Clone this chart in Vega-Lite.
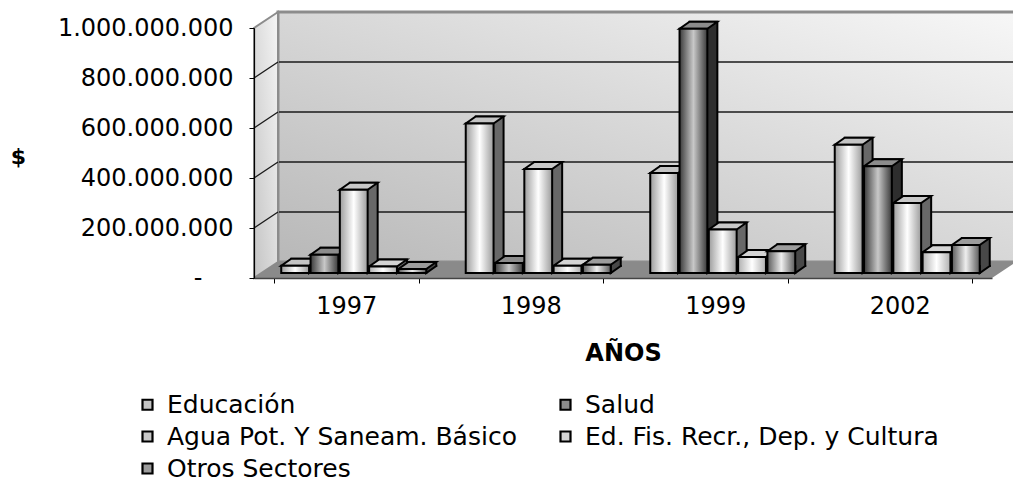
{
  "$schema": "https://vega.github.io/schema/vega-lite/v6.json",
  "width": 738,
  "height": 250,
  "autosize": "none",
  "padding": {"left": 254, "top": 28, "right": 21, "bottom": 206},
  "background": "#ffffff",
  "config": {"view": {"stroke": null}, "font": "DejaVu Sans"},
  "datasets": {
    "gastos": [
      {"anio": "1997", "sector": "Educación", "monto": 29000000},
      {"anio": "1997", "sector": "Salud", "monto": 73000000},
      {"anio": "1997", "sector": "Agua Pot. Y Saneam. Básico", "monto": 333000000},
      {"anio": "1997", "sector": "Ed. Fis. Recr., Dep. y Cultura", "monto": 26000000},
      {"anio": "1997", "sector": "Otros Sectores", "monto": 16000000},
      {"anio": "1998", "sector": "Educación", "monto": 598000000},
      {"anio": "1998", "sector": "Salud", "monto": 40000000},
      {"anio": "1998", "sector": "Agua Pot. Y Saneam. Básico", "monto": 416000000},
      {"anio": "1998", "sector": "Ed. Fis. Recr., Dep. y Cultura", "monto": 29000000},
      {"anio": "1998", "sector": "Otros Sectores", "monto": 33000000},
      {"anio": "1999", "sector": "Educación", "monto": 400000000},
      {"anio": "1999", "sector": "Salud", "monto": 977000000},
      {"anio": "1999", "sector": "Agua Pot. Y Saneam. Básico", "monto": 174000000},
      {"anio": "1999", "sector": "Ed. Fis. Recr., Dep. y Cultura", "monto": 64000000},
      {"anio": "1999", "sector": "Otros Sectores", "monto": 87000000},
      {"anio": "2002", "sector": "Educación", "monto": 513000000},
      {"anio": "2002", "sector": "Salud", "monto": 427000000},
      {"anio": "2002", "sector": "Agua Pot. Y Saneam. Básico", "monto": 280000000},
      {"anio": "2002", "sector": "Ed. Fis. Recr., Dep. y Cultura", "monto": 83000000},
      {"anio": "2002", "sector": "Otros Sectores", "monto": 112000000}
    ],
    "marco": [{"desde": 0, "hasta": 1, "piso": 0, "techo": 1000000000}],
    "rejilla": [
      {"nivel": 200000000},
      {"nivel": 400000000},
      {"nivel": 600000000},
      {"nivel": 800000000}
    ]
  },
  "resolve": {"scale": {"x": "independent", "xOffset": "independent"}, "axis": {"y": "independent"}},
  "layer": [
    {
      "data": {"name": "marco"},
      "mark": {
        "type": "rect",
        "xOffset": 24, "x2Offset": 24, "yOffset": -16, "y2Offset": -16,
        "fill": {"gradient": "linear", "x1": 0, "y1": 1, "x2": 1, "y2": 0,
          "stops": [{"offset": 0, "color": "#b8b8b8"}, {"offset": 0.55, "color": "#dadada"}, {"offset": 1, "color": "#f7f7f7"}]},
        "stroke": "#8c8c8c", "strokeWidth": 3
      },
      "encoding": {
        "x": {"field": "desde", "type": "quantitative", "scale": {"domain": [0, 1], "nice": false, "zero": false}, "axis": null},
        "x2": {"field": "hasta"},
        "y": {"field": "piso", "type": "quantitative", "axis": null},
        "y2": {"field": "techo"}
      }
    },
    {
      "data": {"name": "rejilla"},
      "mark": {"type": "rule", "xOffset": 24, "x2Offset": 24, "yOffset": -16, "color": "#1a1a1a", "strokeWidth": 1.3},
      "encoding": {
        "x": {"datum": 0, "type": "quantitative", "scale": {"domain": [0, 1], "nice": false, "zero": false}, "axis": null},
        "x2": {"datum": 1},
        "y": {"field": "nivel", "type": "quantitative", "axis": null}
      }
    },
    {
      "data": {"name": "marco"},
      "mark": {
        "type": "point", "shape": "M0,0L0,-250L24,-266L24,-16Z", "size": 4, "filled": true, "opacity": 1,
        "fill": {"gradient": "linear", "x1": 0, "y1": 1, "x2": 1, "y2": 0,
          "stops": [{"offset": 0, "color": "#c4c4c4"}, {"offset": 1, "color": "#f5f5f5"}]},
        "stroke": "#8c8c8c", "strokeWidth": 2
      },
      "encoding": {
        "x": {"field": "desde", "type": "quantitative", "scale": {"domain": [0, 1], "nice": false, "zero": false}, "axis": null},
        "y": {"field": "piso", "type": "quantitative", "axis": null}
      }
    },
    {
      "data": {"name": "rejilla"},
      "mark": {"type": "point", "shape": "M0,0L24,-16", "size": 4, "filled": false, "opacity": 1, "stroke": "#1a1a1a", "strokeWidth": 1.3},
      "encoding": {
        "x": {"datum": 0, "type": "quantitative", "scale": {"domain": [0, 1], "nice": false, "zero": false}, "axis": null},
        "y": {"field": "nivel", "type": "quantitative", "axis": null}
      }
    },
    {
      "data": {"name": "marco"},
      "mark": {"type": "point", "shape": "M0,0L738,0L762,-16L24,-16Z", "size": 4, "filled": true, "opacity": 1, "fill": "#8a8a8a", "stroke": null},
      "encoding": {
        "x": {"field": "desde", "type": "quantitative", "scale": {"domain": [0, 1], "nice": false, "zero": false}, "axis": null},
        "y": {"field": "piso", "type": "quantitative", "axis": null}
      }
    },
    {
      "data": {"name": "gastos"},
      "mark": {"type": "bar", "yOffset": -12, "y2Offset": -12, "stroke": "#000000", "strokeWidth": 2},
      "encoding": {
        "x": {"field": "anio", "type": "ordinal", "scale": {"type": "band", "paddingInner": 0.214, "paddingOuter": 0.107}, "axis": null},
        "xOffset": {
          "field": "sector", "type": "nominal",
          "sort": ["Educación", "Salud", "Agua Pot. Y Saneam. Básico", "Ed. Fis. Recr., Dep. y Cultura", "Otros Sectores"],
          "scale": {"type": "band", "paddingInner": 0.05, "paddingOuter": 0, "range": [17.5, 162.5]}
        },
        "y": {"field": "monto", "type": "quantitative", "scale": {"domain": [0, 1000000000], "nice": false}, "axis": null},
        "fill": {
          "condition": [
            {"test": "datum.sector === 'Salud'", "value": "#2e2e2e"},
            {"test": "datum.sector === 'Otros Sectores'", "value": "#484848"}
          ],
          "value": "#686868"
        }
      }
    },
    {
      "data": {"name": "gastos"},
      "mark": {"type": "point", "shape": "M23.9,-8L23.9,-7L13.9,0L13.9,-8", "size": 4, "filled": true, "opacity": 1,
        "yOffset": -5, "stroke": "#000000", "strokeWidth": 2},
      "encoding": {
        "x": {"field": "anio", "type": "ordinal", "scale": {"type": "band", "paddingInner": 0.214, "paddingOuter": 0.107}, "axis": null},
        "xOffset": {
          "field": "sector", "type": "nominal",
          "sort": ["Educación", "Salud", "Agua Pot. Y Saneam. Básico", "Ed. Fis. Recr., Dep. y Cultura", "Otros Sectores"],
          "scale": {"type": "band", "paddingInner": 0.05, "paddingOuter": 0, "range": [7.5, 152.5]}
        },
        "y": {"datum": 0, "type": "quantitative", "axis": null},
        "fill": {
          "condition": [
            {"test": "datum.sector === 'Salud'", "value": "#2e2e2e"},
            {"test": "datum.sector === 'Otros Sectores'", "value": "#484848"}
          ],
          "value": "#686868"
        }
      }
    },
    {
      "data": {"name": "gastos"},
      "mark": {"type": "point", "shape": "M-13.9,0L13.9,0L23.9,-7L-3.9,-7Z", "size": 4, "filled": true, "opacity": 1,
        "yOffset": -5, "stroke": "#000000", "strokeWidth": 2},
      "encoding": {
        "x": {"field": "anio", "type": "ordinal", "scale": {"type": "band", "paddingInner": 0.214, "paddingOuter": 0.107}, "axis": null},
        "xOffset": {
          "field": "sector", "type": "nominal",
          "sort": ["Educación", "Salud", "Agua Pot. Y Saneam. Básico", "Ed. Fis. Recr., Dep. y Cultura", "Otros Sectores"],
          "scale": {"type": "band", "paddingInner": 0.05, "paddingOuter": 0, "range": [7.5, 152.5]}
        },
        "y": {"field": "monto", "type": "quantitative", "axis": null},
        "fill": {
          "field": "sector", "type": "nominal",
          "scale": {
            "domain": ["Educación", "Salud", "Agua Pot. Y Saneam. Básico", "Ed. Fis. Recr., Dep. y Cultura", "Otros Sectores"],
            "range": ["#c4c4c4", "#8c8c8c", "#c8c8c8", "#d4d4d4", "#9c9c9c"]
          },
          "legend": {
            "orient": "none", "legendX": -119, "legendY": 364, "direction": "horizontal", "columns": 2,
            "columnPadding": 36, "rowPadding": 6,
            "title": null, "symbolType": "square", "symbolSize": 100, "symbolStrokeColor": "#000000",
            "symbolStrokeWidth": 2.2, "symbolOpacity": 1, "labelFont": "DejaVu Sans", "labelFontSize": 25,
            "labelColor": "#000000", "labelOffset": 7, "labelLimit": 600, "padding": 0
          }
        }
      }
    },
    {
      "data": {"name": "gastos"},
      "mark": {"type": "bar", "yOffset": -5, "y2Offset": -5, "stroke": "#000000", "strokeWidth": 2},
      "encoding": {
        "x": {
          "field": "anio", "type": "ordinal",
          "scale": {"type": "band", "paddingInner": 0.214, "paddingOuter": 0.107},
          "axis": {
            "title": "AÑOS", "titleFont": "DejaVu Sans", "titleFontWeight": "bold", "titleFontSize": 24,
            "titleColor": "#000000", "titleBaseline": "top", "titleY": 63,
            "labelFont": "DejaVu Sans", "labelFontSize": 24, "labelColor": "#000000", "labelAngle": 0,
            "labelPadding": 11, "tickBand": "extent", "tickSize": 5, "tickColor": "#000000",
            "domainColor": "#444444", "domainWidth": 1.5, "zindex": 1
          }
        },
        "xOffset": {
          "field": "sector", "type": "nominal",
          "sort": ["Educación", "Salud", "Agua Pot. Y Saneam. Básico", "Ed. Fis. Recr., Dep. y Cultura", "Otros Sectores"],
          "scale": {"type": "band", "paddingInner": 0.05, "paddingOuter": 0, "range": [7.5, 152.5]}
        },
        "y": {
          "field": "monto", "type": "quantitative",
          "axis": {
            "title": "$", "titleAngle": 0, "titleFont": "DejaVu Sans", "titleFontWeight": "bold", "titleFontSize": 22,
            "titleColor": "#000000", "titleX": -236, "titleY": 128, "titleAlign": "center", "titleBaseline": "middle",
            "values": [0, 200000000, 400000000, 600000000, 800000000, 1000000000],
            "labelExpr": "datum.value == 0 ? '-' : replace(format(datum.value, ','), regexp(',', 'g'), '.')",
            "labelPadding": {"condition": {"test": "datum.value === 0", "value": 47}, "value": 16},
            "labelFont": "DejaVu Sans", "labelFontSize": 24, "labelColor": "#000000",
            "tickSize": 5, "tickColor": "#000000", "domainColor": "#000000", "domainWidth": 1.2,
            "grid": false, "zindex": 1
          }
        },
        "fill": {
          "condition": [
            {"test": "datum.sector === 'Salud'", "value": {"gradient": "linear", "x1": 0, "y1": 0, "x2": 1, "y2": 0,
              "stops": [{"offset": 0, "color": "#3a3a3a"}, {"offset": 0.5, "color": "#c8c8c8"}, {"offset": 1, "color": "#3a3a3a"}]}},
            {"test": "datum.sector === 'Otros Sectores'", "value": {"gradient": "linear", "x1": 0, "y1": 0, "x2": 1, "y2": 0,
              "stops": [{"offset": 0, "color": "#5a5a5a"}, {"offset": 0.5, "color": "#eeeeee"}, {"offset": 1, "color": "#5a5a5a"}]}},
            {"test": "datum.sector === 'Ed. Fis. Recr., Dep. y Cultura'", "value": {"gradient": "linear", "x1": 0, "y1": 0, "x2": 1, "y2": 0,
              "stops": [{"offset": 0, "color": "#b0b0b0"}, {"offset": 0.5, "color": "#ffffff"}, {"offset": 1, "color": "#b0b0b0"}]}}
          ],
          "value": {"gradient": "linear", "x1": 0, "y1": 0, "x2": 1, "y2": 0,
            "stops": [{"offset": 0, "color": "#9c9c9c"}, {"offset": 0.5, "color": "#ffffff"}, {"offset": 1, "color": "#9c9c9c"}]}
        }
      }
    }
  ]
}
